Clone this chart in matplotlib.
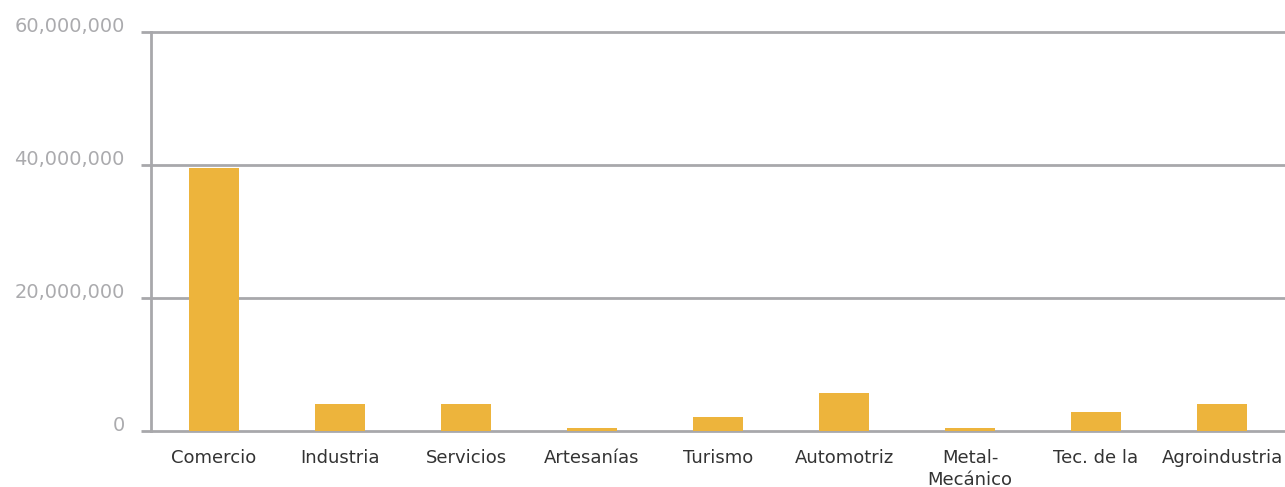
import matplotlib
matplotlib.use("Agg")
import matplotlib.pyplot as plt
from matplotlib.ticker import FuncFormatter

categories = ["Comercio", "Industria", "Servicios", "Artesanías", "Turismo",
              "Automotriz", "Metal-\nMecánico", "Tec. de la", "Agroindustria"]
values = [39500000, 4050000, 4050000, 450000, 2100000,
          5700000, 450000, 2850000, 4050000]
yticks = [0, 20000000, 40000000, 60000000]

bar_color = "#EDB43C"
grid_color = "#A8A8AB"

plt.rcParams["font.family"] = ["DejaVu Sans"]

fig = plt.figure(figsize=(12.85, 4.87), dpi=100)
ax = fig.add_axes([151 / 1285, 1 - 431 / 487, 1 - 151 / 1285, (431 - 32) / 487])

x = range(len(categories))
ax.bar(x, values, width=0.4, color=bar_color, zorder=3)

ax.set_xlim(-0.5, len(categories) - 0.5)
ax.set_ylim(0, 60000000)
ax.set_yticks(yticks)
ax.yaxis.set_major_formatter(FuncFormatter(lambda v, p: f"{int(v):,}"))
ax.grid(axis="y", color=grid_color, linewidth=2, zorder=1)
ax.set_axisbelow(True)
# keep the zero line at full width instead of half clipped
for gl in ax.get_ygridlines():
    gl.set_clip_on(False)

for side in ["top", "right", "bottom"]:
    ax.spines[side].set_visible(False)
ax.spines["left"].set_color(grid_color)
ax.spines["left"].set_linewidth(2)

ax.tick_params(axis="y", length=7, width=2, color=grid_color, pad=12,
               labelsize=14, labelcolor="#ABABAE")
for lbl in ax.get_yticklabels():
    lbl.set_va("baseline")

ax.set_xticks(list(x))
ax.set_xticklabels(categories, fontsize=13, color="#333333", linespacing=1.25)
ax.tick_params(axis="x", length=0, pad=13)

fig.savefig("out.png", dpi=100)
